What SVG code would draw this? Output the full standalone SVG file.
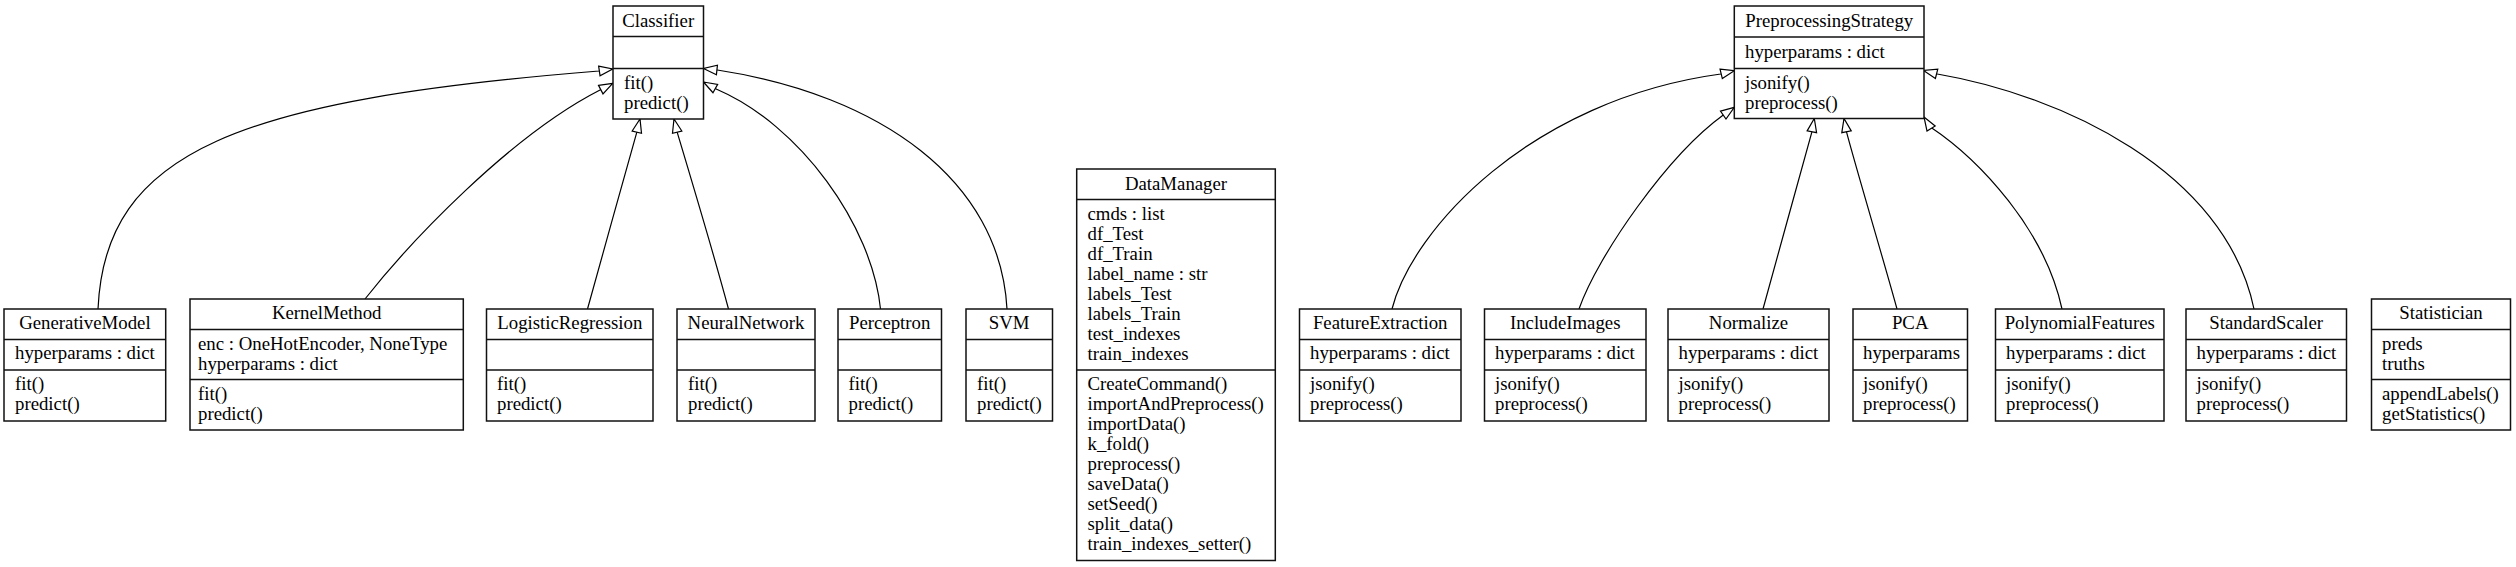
<svg xmlns="http://www.w3.org/2000/svg" width="2516" height="567" viewBox="0 0 2516 567">
<style>
.box{fill:#fff;stroke:#111;stroke-width:1.5}
.div{stroke:#111;stroke-width:1.5}
text{font-family:"Liberation Serif","Times New Roman",serif;font-size:18.8px;fill:#000}
.t{text-anchor:middle}
.e{fill:none;stroke:#000;stroke-width:1.2;marker-end:url(#inh)}
</style>
<defs>
<marker id="inh" markerUnits="userSpaceOnUse" viewBox="-16 -8 18 16" markerWidth="18" markerHeight="16" refX="0" refY="0" orient="auto">
<polygon points="-13.5,-4.8 0,0 -13.5,4.8" fill="#fff" stroke="#000" stroke-width="1.2"/>
</marker>
</defs>
<rect width="2516" height="567" fill="#fff"/>
<g id="connectors">
<path class="e" d="M98,309 C105,150 240,100 599,71 L612.7,69"/>
<path class="e" d="M365,299 C410,242 510,136 600,90 L612.7,83.3"/>
<path class="e" d="M587.5,309 C598,270 625,175 636.7,132.7 L640,119"/>
<path class="e" d="M728.5,309 C718,270 690,175 677.3,132.7 L674,119"/>
<path class="e" d="M880.5,309 C872,225 800,125 716.7,89.3 L703.5,82"/>
<path class="e" d="M1007,309 C1000,180 880,95 717.3,70 L703.5,68.5"/>
<path class="e" d="M1392,309 C1412,230 1530,100 1720.7,74 L1734.3,70.7"/>
<path class="e" d="M1579,309 C1598,255 1668,155 1723.3,115 L1734.3,107.3"/>
<path class="e" d="M1763,309 C1775,265 1800,175 1811.7,132.7 L1814.3,118.5"/>
<path class="e" d="M1897,309 C1885,265 1858,175 1846.7,132.7 L1844,118.5"/>
<path class="e" d="M2062,309 C2045,230 1980,160 1930,126.7 L1924,117"/>
<path class="e" d="M2254,309 C2225,170 2060,95 1937.3,74 L1923.5,70.5"/>
</g>
<g id="Classifier">
<rect class="box" x="613" y="6" width="90.5" height="113"/>
<line class="div" x1="613" y1="36.5" x2="703.5" y2="36.5"/>
<line class="div" x1="613" y1="68.5" x2="703.5" y2="68.5"/>
<text class="t" x="658.2" y="26.5">Classifier</text>
<text x="624" y="89">fit()</text>
<text x="624" y="109">predict()</text>
</g>
<g id="PreprocessingStrategy">
<rect class="box" x="1734.3" y="6" width="189.7" height="112.5"/>
<line class="div" x1="1734.3" y1="37" x2="1924" y2="37"/>
<line class="div" x1="1734.3" y1="68.5" x2="1924" y2="68.5"/>
<text class="t" x="1829.2" y="27">PreprocessingStrategy</text>
<text x="1745" y="57.5">hyperparams : dict</text>
<text x="1745" y="89">jsonify()</text>
<text x="1745" y="109">preprocess()</text>
</g>
<g id="GenerativeModel">
<rect class="box" x="4" y="309" width="161.7" height="112"/>
<line class="div" x1="4" y1="339.5" x2="165.7" y2="339.5"/>
<line class="div" x1="4" y1="370" x2="165.7" y2="370"/>
<text class="t" x="84.9" y="329">GenerativeModel</text>
<text x="15" y="359">hyperparams : dict</text>
<text x="15" y="390">fit()</text>
<text x="15" y="410">predict()</text>
</g>
<g id="KernelMethod">
<rect class="box" x="190" y="299" width="273.3" height="131"/>
<line class="div" x1="190" y1="329.5" x2="463.3" y2="329.5"/>
<line class="div" x1="190" y1="379.5" x2="463.3" y2="379.5"/>
<text class="t" x="326.7" y="319">KernelMethod</text>
<text x="198" y="350">enc : OneHotEncoder, NoneType</text>
<text x="198" y="370">hyperparams : dict</text>
<text x="198" y="400">fit()</text>
<text x="198" y="420">predict()</text>
</g>
<g id="LogisticRegression">
<rect class="box" x="486.5" y="309" width="166.5" height="112"/>
<line class="div" x1="486.5" y1="339.5" x2="653" y2="339.5"/>
<line class="div" x1="486.5" y1="370" x2="653" y2="370"/>
<text class="t" x="569.8" y="329">LogisticRegression</text>
<text x="497" y="390">fit()</text>
<text x="497" y="410">predict()</text>
</g>
<g id="NeuralNetwork">
<rect class="box" x="677" y="309" width="138" height="112"/>
<line class="div" x1="677" y1="339.5" x2="815" y2="339.5"/>
<line class="div" x1="677" y1="370" x2="815" y2="370"/>
<text class="t" x="746" y="329">NeuralNetwork</text>
<text x="688" y="390">fit()</text>
<text x="688" y="410">predict()</text>
</g>
<g id="Perceptron">
<rect class="box" x="838" y="309" width="103.5" height="112"/>
<line class="div" x1="838" y1="339.5" x2="941.5" y2="339.5"/>
<line class="div" x1="838" y1="370" x2="941.5" y2="370"/>
<text class="t" x="889.7" y="329">Perceptron</text>
<text x="848.5" y="390">fit()</text>
<text x="848.5" y="410">predict()</text>
</g>
<g id="SVM">
<rect class="box" x="966" y="309" width="86.5" height="112"/>
<line class="div" x1="966" y1="339.5" x2="1052.5" y2="339.5"/>
<line class="div" x1="966" y1="370" x2="1052.5" y2="370"/>
<text class="t" x="1009.2" y="329">SVM</text>
<text x="977" y="390">fit()</text>
<text x="977" y="410">predict()</text>
</g>
<g id="DataManager">
<rect class="box" x="1076.7" y="169" width="198.6" height="391.5"/>
<line class="div" x1="1076.7" y1="199.5" x2="1275.3" y2="199.5"/>
<line class="div" x1="1076.7" y1="370" x2="1275.3" y2="370"/>
<text class="t" x="1176" y="189.5">DataManager</text>
<text x="1087.5" y="220">cmds : list</text>
<text x="1087.5" y="240">df_Test</text>
<text x="1087.5" y="260">df_Train</text>
<text x="1087.5" y="280">label_name : str</text>
<text x="1087.5" y="300">labels_Test</text>
<text x="1087.5" y="320">labels_Train</text>
<text x="1087.5" y="340">test_indexes</text>
<text x="1087.5" y="360">train_indexes</text>
<text x="1087.5" y="390">CreateCommand()</text>
<text x="1087.5" y="410">importAndPreprocess()</text>
<text x="1087.5" y="430">importData()</text>
<text x="1087.5" y="450">k_fold()</text>
<text x="1087.5" y="470">preprocess()</text>
<text x="1087.5" y="490">saveData()</text>
<text x="1087.5" y="510">setSeed()</text>
<text x="1087.5" y="530">split_data()</text>
<text x="1087.5" y="550">train_indexes_setter()</text>
</g>
<g id="FeatureExtraction">
<rect class="box" x="1299.5" y="309" width="161.5" height="112"/>
<line class="div" x1="1299.5" y1="339.5" x2="1461" y2="339.5"/>
<line class="div" x1="1299.5" y1="370" x2="1461" y2="370"/>
<text class="t" x="1380.2" y="329">FeatureExtraction</text>
<text x="1310" y="359">hyperparams : dict</text>
<text x="1310" y="390">jsonify()</text>
<text x="1310" y="410">preprocess()</text>
</g>
<g id="IncludeImages">
<rect class="box" x="1484.5" y="309" width="161.5" height="112"/>
<line class="div" x1="1484.5" y1="339.5" x2="1646" y2="339.5"/>
<line class="div" x1="1484.5" y1="370" x2="1646" y2="370"/>
<text class="t" x="1565.2" y="329">IncludeImages</text>
<text x="1495" y="359">hyperparams : dict</text>
<text x="1495" y="390">jsonify()</text>
<text x="1495" y="410">preprocess()</text>
</g>
<g id="Normalize">
<rect class="box" x="1668" y="309" width="161" height="112"/>
<line class="div" x1="1668" y1="339.5" x2="1829" y2="339.5"/>
<line class="div" x1="1668" y1="370" x2="1829" y2="370"/>
<text class="t" x="1748.5" y="329">Normalize</text>
<text x="1678.5" y="359">hyperparams : dict</text>
<text x="1678.5" y="390">jsonify()</text>
<text x="1678.5" y="410">preprocess()</text>
</g>
<g id="PCA">
<rect class="box" x="1853" y="309" width="114.5" height="112"/>
<line class="div" x1="1853" y1="339.5" x2="1967.5" y2="339.5"/>
<line class="div" x1="1853" y1="370" x2="1967.5" y2="370"/>
<text class="t" x="1910.2" y="329">PCA</text>
<text x="1863" y="359">hyperparams</text>
<text x="1863" y="390">jsonify()</text>
<text x="1863" y="410">preprocess()</text>
</g>
<g id="PolynomialFeatures">
<rect class="box" x="1995.5" y="309" width="168.5" height="112"/>
<line class="div" x1="1995.5" y1="339.5" x2="2164" y2="339.5"/>
<line class="div" x1="1995.5" y1="370" x2="2164" y2="370"/>
<text class="t" x="2079.8" y="329">PolynomialFeatures</text>
<text x="2006" y="359">hyperparams : dict</text>
<text x="2006" y="390">jsonify()</text>
<text x="2006" y="410">preprocess()</text>
</g>
<g id="StandardScaler">
<rect class="box" x="2186" y="309" width="160.5" height="112"/>
<line class="div" x1="2186" y1="339.5" x2="2346.5" y2="339.5"/>
<line class="div" x1="2186" y1="370" x2="2346.5" y2="370"/>
<text class="t" x="2266.2" y="329">StandardScaler</text>
<text x="2196.5" y="359">hyperparams : dict</text>
<text x="2196.5" y="390">jsonify()</text>
<text x="2196.5" y="410">preprocess()</text>
</g>
<g id="Statistician">
<rect class="box" x="2371.5" y="299" width="139" height="131"/>
<line class="div" x1="2371.5" y1="329.5" x2="2510.5" y2="329.5"/>
<line class="div" x1="2371.5" y1="379.5" x2="2510.5" y2="379.5"/>
<text class="t" x="2441" y="319">Statistician</text>
<text x="2382" y="350">preds</text>
<text x="2382" y="370">truths</text>
<text x="2382" y="400">appendLabels()</text>
<text x="2382" y="420">getStatistics()</text>
</g>
</svg>
